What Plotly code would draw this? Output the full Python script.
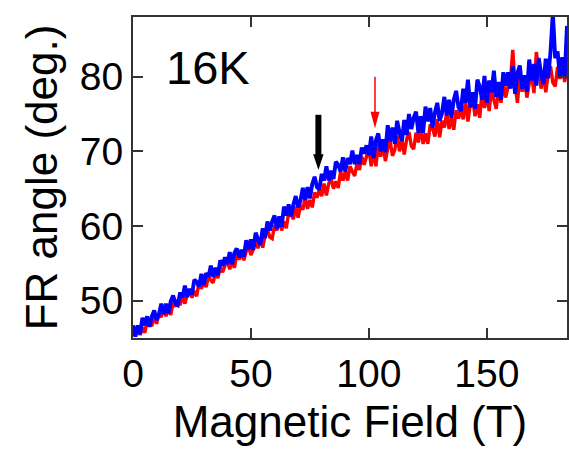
import plotly.graph_objects as go

# Magnetic field (T), 1 T steps
field = list(range(0, 185))

# FR angle (deg.), blue trace
blue = [46.7, 45.2, 46.7, 45.5, 47.7, 46.7, 47.9, 46.5, 47.9, 48.7,
        47.4, 48.2, 49.6, 48.2, 49.6, 48.3, 49.9, 50.7, 49.6, 49.4,
        51.1, 50.4, 52.0, 50.5, 51.6, 50.8, 52.8, 52.5, 51.9, 53.6,
        52.1, 53.7, 53.2, 54.7, 53.2, 54.4, 53.4, 55.4, 54.7, 55.8,
        54.9, 56.5, 54.9, 56.4, 57.0, 55.8, 56.8, 55.9, 58.1, 56.9,
        58.2, 56.8, 59.1, 58.2, 57.5, 59.7, 58.4, 60.6, 59.4, 60.6,
        61.4, 59.6, 61.3, 59.9, 62.6, 61.4, 62.9, 61.3, 62.9, 64.0,
        62.5, 63.4, 65.1, 63.5, 65.2, 63.7, 65.6, 66.6, 65.2, 64.9,
        67.0, 66.1, 68.0, 66.1, 67.4, 66.3, 68.6, 68.2, 67.3, 69.2,
        67.3, 69.1, 68.3, 70.1, 68.3, 69.5, 68.3, 70.5, 69.7, 70.8,
        69.5, 72.0, 69.1, 71.5, 72.4, 70.0, 71.6, 69.9, 73.5, 71.3,
        73.2, 71.0, 74.1, 72.5, 71.4, 74.2, 72.2, 75.0, 73.0, 74.5,
        75.3, 72.5, 74.7, 72.5, 76.0, 74.0, 75.8, 73.2, 75.2, 76.5,
        74.1, 75.1, 77.3, 74.8, 76.9, 74.5, 76.9, 78.1, 75.9, 75.4,
        78.4, 76.5, 79.6, 75.9, 77.9, 75.7, 79.6, 78.7, 76.9, 80.1,
        76.5, 79.5, 77.9, 80.8, 77.3, 79.3, 76.9, 80.6, 78.8, 80.6,
        78.4, 81.4, 77.7, 80.5, 81.5, 78.4, 80.2, 78.0, 82.3, 79.5,
        81.7, 78.8, 82.5, 80.5, 79.0, 82.4, 79.8, 83.3, 88.5, 82.5,
        83.4, 80.0, 82.6, 79.8, 86.8]

# FR angle (deg.), red trace
red = [45.9, 45.3, 46.6, 45.4, 46.4, 45.7, 47.3, 47.1, 46.6, 48.0,
       46.9, 48.2, 47.8, 49.0, 47.9, 48.9, 48.1, 49.7, 49.2, 50.1,
       49.4, 50.7, 49.6, 50.8, 51.3, 50.4, 51.3, 50.6, 52.5, 51.6,
       52.6, 51.8, 53.3, 52.7, 52.4, 53.9, 53.0, 54.6, 53.8, 54.7,
       55.3, 54.2, 55.3, 54.4, 56.3, 55.5, 56.5, 55.4, 56.6, 57.2,
       56.1, 56.9, 58.3, 57.0, 58.4, 57.1, 58.7, 59.6, 58.5, 58.3,
       60.1, 59.4, 61.0, 59.4, 60.6, 59.7, 61.8, 61.5, 60.9, 62.6,
       61.1, 62.8, 62.2, 63.8, 62.3, 63.5, 62.5, 64.5, 63.8, 64.9,
       64.0, 65.7, 64.1, 65.7, 66.3, 65.0, 66.0, 65.1, 67.3, 66.1,
       67.3, 66.1, 68.0, 67.3, 66.7, 68.5, 67.5, 69.3, 68.2, 69.3,
       70.3, 68.0, 69.9, 68.0, 71.0, 69.3, 70.8, 68.7, 70.4, 71.4,
       69.4, 70.2, 72.1, 70.0, 71.6, 69.6, 71.6, 72.6, 70.7, 70.3,
       72.5, 71.2, 73.4, 71.0, 72.4, 71.0, 73.6, 73.1, 72.0, 74.3,
       71.9, 74.1, 73.2, 75.2, 73.0, 74.5, 72.9, 75.5, 74.4, 75.7,
       74.3, 76.8, 74.0, 76.3, 77.2, 74.7, 76.3, 74.5, 78.1, 75.8,
       77.6, 75.4, 78.4, 76.9, 75.7, 78.6, 76.5, 79.3, 77.2, 78.7,
       79.4, 83.6, 78.8, 76.5, 80.1, 78.0, 79.8, 77.2, 79.1, 80.3,
       77.8, 83.3, 81.0, 78.4, 80.4, 77.9, 80.3, 81.4, 79.2, 78.7,
       81.3, 79.7, 82.2, 79.3, 81.0]

x_ticks = [0, 50, 100, 150]
y_ticks = [50, 60, 70, 80]

# arrow specs: [field, top angle, tip angle]
black_arrow = [78.6, 74.9, 67.5]
red_arrow = [102.6, 80.0, 73.1]

FONT = "Liberation Sans, Arial, sans-serif"

fig = go.Figure()
fig.add_trace(go.Scatter(x=field, y=red, mode="lines",
                         line=dict(color="#ff0000", width=3.4, simplify=False),
                         showlegend=False))
fig.add_trace(go.Scatter(x=field, y=blue, mode="lines",
                         line=dict(color="#0000ff", width=3.9, simplify=False),
                         showlegend=False))

# black arrow
bx, btop, btip = black_arrow
fig.add_shape(type="line", x0=bx, x1=bx, y0=btop, y1=btip + 1.9,
              line=dict(color="black", width=6))
fig.add_shape(type="path",
              path=f"M {bx-2.2},{btip+2.1} L {bx+2.2},{btip+2.1} L {bx},{btip} Z",
              fillcolor="black", line=dict(color="black", width=0))
# red arrow
rx, rtop, rtip = red_arrow
fig.add_shape(type="line", x0=rx, x1=rx, y0=rtop, y1=rtip + 2.0,
              line=dict(color="#ff0000", width=1.5))
fig.add_shape(type="path",
              path=f"M {rx-1.9},{rtip+2.2} L {rx+1.9},{rtip+2.2} L {rx},{rtip} Z",
              fillcolor="#ff0000", line=dict(color="#ff0000", width=0))

fig.add_annotation(x=31.6, y=81.2, text="16K", showarrow=False,
                   xanchor="center", yanchor="middle",
                   font=dict(family=FONT, size=47, color="black"))

axis_common = dict(showline=True, linecolor="#333333", linewidth=2,
                   mirror="allticks", ticks="inside", ticklen=10,
                   tickwidth=2, tickcolor="#333333", showgrid=False,
                   zeroline=False,
                   tickfont=dict(family=FONT, size=39, color="black"))

fig.update_layout(
    width=569, height=449,
    margin=dict(l=133, r=0, t=17, b=111),
    paper_bgcolor="white", plot_bgcolor="white",
    xaxis=dict(range=[0, 184], tickvals=x_ticks,
               title=dict(text="Magnetic Field (T)", standoff=12,
                          font=dict(family=FONT, size=44, color="black")),
               **axis_common),
    yaxis=dict(range=[45, 88], tickvals=y_ticks,
               title=dict(text="FR angle (deg.)", standoff=8,
                          font=dict(family=FONT, size=44, color="black")),
               **axis_common),
)

fig.write_html("out.html")
